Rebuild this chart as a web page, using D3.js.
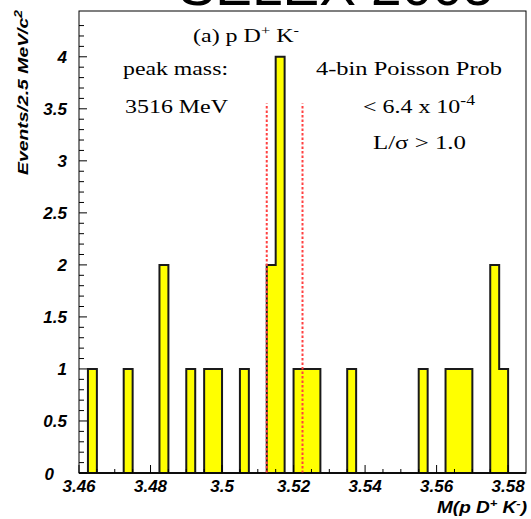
<!DOCTYPE html>
<head>
	<meta charset="utf-8" />
	<style>
		body {
			margin: 0;
			background-color: #fff;
			overflow: hidden;
		}
		svg {
			display: block;
		}
		.tick-label {
			font: italic bold 17px 'Liberation Sans', Arial, sans-serif;
			fill: #000;
		}
		.note {
			font: 19px 'Liberation Serif', 'Times New Roman', serif;
			fill: #000;
		}
	</style>
</head>

<body>
	<div id="chart-area"></div>

	<script src="https://cdnjs.cloudflare.com/ajax/libs/d3/7.8.5/d3.min.js"></script>
	<script>
		// histogram: lower edge of each filled bin (GeV) and its count
		var binLow = [3.4625, 3.4725, 3.4825, 3.49, 3.495, 3.4975, 3.505, 3.5125, 3.515,
			3.52, 3.5225, 3.525, 3.535, 3.555, 3.5625, 3.565, 3.5675, 3.575, 3.5775];
		var binCount = [1, 1, 2, 1, 1, 1, 1, 2, 4, 1, 1, 1, 1, 1, 1, 1, 1, 2, 1];
		var binWidth = 0.0025;
		var massRange = [3.46, 3.585];
		var countRange = [0, 4.44];
		// signal window (dashed lines)
		var windowEdges = [3.5125, 3.5225];
		var windowTop = 3.55;

		var xTicks = [3.46, 3.48, 3.5, 3.52, 3.54, 3.56, 3.58];
		var yTicks = [0, 0.5, 1, 1.5, 2, 2.5, 3, 3.5, 4];

		var W = 531, H = 519;
		var margins = { top: 11, right: 5, bottom: 46, left: 79 };

		var x = d3.scaleLinear().domain(massRange).range([margins.left, W - margins.right]);
		var y = d3.scaleLinear().domain(countRange).range([H - margins.bottom, margins.top]);

		var svg = d3.select('#chart-area').append('svg')
			.attr('width', W).attr('height', H);

		// cut-off banner at the very top
		svg.append('text')
			.attr('x', 336).attr('y', 5)
			.attr('text-anchor', 'middle')
			.attr('font-family', 'Liberation Sans, Arial, sans-serif')
			.attr('font-size', 55)
			.text('SELEX 2005');

		// full bin array for the step outline
		var nBins = Math.round((massRange[1] - massRange[0]) / binWidth);
		var counts = new Array(nBins).fill(0);
		binLow.forEach((lo, i) => {
			counts[Math.round((lo - massRange[0]) / binWidth)] = binCount[i];
		});

		var path = d3.path();
		path.moveTo(x(massRange[0]), y(0));
		counts.forEach((c, i) => {
			var lo = massRange[0] + i * binWidth;
			path.lineTo(x(lo), y(c));
			path.lineTo(x(lo + binWidth), y(c));
		});
		path.lineTo(x(massRange[1]), y(0));
		path.closePath();

		svg.append('path')
			.attr('d', path.toString())
			.attr('fill', '#ffff00')
			.attr('stroke', '#1a1a1a')
			.attr('stroke-width', 2)
			.attr('stroke-linejoin', 'miter');

		// dashed window lines
		svg.selectAll('.win')
			.data(windowEdges)
			.join('line')
			.attr('class', 'win')
			.attr('x1', d => x(d)).attr('x2', d => x(d))
			.attr('y1', y(0)).attr('y2', y(windowTop))
			.attr('stroke', '#ff4040')
			.attr('stroke-width', 2)
			.attr('stroke-dasharray', '2.5,2');

		// frame
		svg.append('rect')
			.attr('x', x(massRange[0])).attr('y', y(countRange[1]))
			.attr('width', x(massRange[1]) - x(massRange[0]))
			.attr('height', y(0) - y(countRange[1]))
			.attr('fill', 'none')
			.attr('stroke', '#000')
			.attr('stroke-width', 1);

		// y ticks (inside)
		var yMinor = d3.range(0, 44).map(i => i / 10);
		svg.selectAll('.ytick')
			.data(yMinor)
			.join('line')
			.attr('x1', x(massRange[0]))
			.attr('x2', d => x(massRange[0]) + (Math.abs(d * 2 - Math.round(d * 2)) < 1e-6 ? 8 : 5))
			.attr('y1', d => y(d)).attr('y2', d => y(d))
			.attr('stroke', '#000').attr('stroke-width', 1);

		svg.selectAll('.ylab')
			.data(yTicks)
			.join('text')
			.attr('class', 'tick-label')
			.attr('x', d => (d === 0 ? 54 : 67))
			.attr('y', d => y(d) + (d === 0 ? 7 : 6))
			.attr('text-anchor', 'end')
			.text(d => d);

		// x ticks (inside, upward)
		var xMinor = d3.range(0, 25).map(i => massRange[0] + i * 0.005);
		svg.selectAll('.xtick')
			.data(xMinor)
			.join('line')
			.attr('x1', d => x(d)).attr('x2', d => x(d))
			.attr('y1', y(0))
			.attr('y2', (d, i) => y(0) - (i % 4 === 0 ? 8 : 4))
			.attr('stroke', '#000').attr('stroke-width', 1);

		svg.selectAll('.xlab')
			.data(xTicks)
			.join('text')
			.attr('class', 'tick-label')
			.attr('x', d => x(d))
			.attr('y', 492)
			.attr('text-anchor', 'middle')
			.text(d => d);

		// axis titles
		svg.append('text')
			.attr('transform', 'translate(28,10) rotate(-90)')
			.attr('text-anchor', 'end')
			.attr('textLength', 165)
			.attr('lengthAdjust', 'spacingAndGlyphs')
			.style('font', 'italic bold 14px "Liberation Sans", Arial, sans-serif')
			.html('Events/2.5 MeV/c<tspan dy="-6" font-size="10">2</tspan>');

		svg.append('text')
			.attr('x', 527).attr('y', 513)
			.attr('text-anchor', 'end')
			.attr('textLength', 90)
			.attr('lengthAdjust', 'spacingAndGlyphs')
			.style('font', 'italic bold 16px "Liberation Sans", Arial, sans-serif')
			.html('M(p D<tspan dy="-6" font-size="11">+</tspan><tspan dy="6"> K</tspan><tspan dy="-6" font-size="11">-</tspan><tspan dy="6">)</tspan>');

		// annotations: text, left x, baseline y, width
		var notes = svg.append('g');
		function note(html, x0, y0, len) {
			notes.append('text').attr('class', 'note')
				.attr('x', x0).attr('y', y0)
				.attr('textLength', len)
				.attr('lengthAdjust', 'spacingAndGlyphs')
				.html(html);
		}
		note('(a)  p D<tspan dy="-7" font-size="13">+</tspan><tspan dy="7"> K</tspan><tspan dy="-7" font-size="13">-</tspan>', 193, 42, 106);
		note('peak mass:', 123, 75, 105);
		note('3516 MeV', 125, 113, 103);
		note('4-bin Poisson Prob', 316, 75, 186);
		note('&lt; 6.4 x 10<tspan dy="-8" font-size="14">-4</tspan>', 363, 113, 112);
		note('L/σ &gt; 1.0', 373, 149, 93);
	</script>
</body>
